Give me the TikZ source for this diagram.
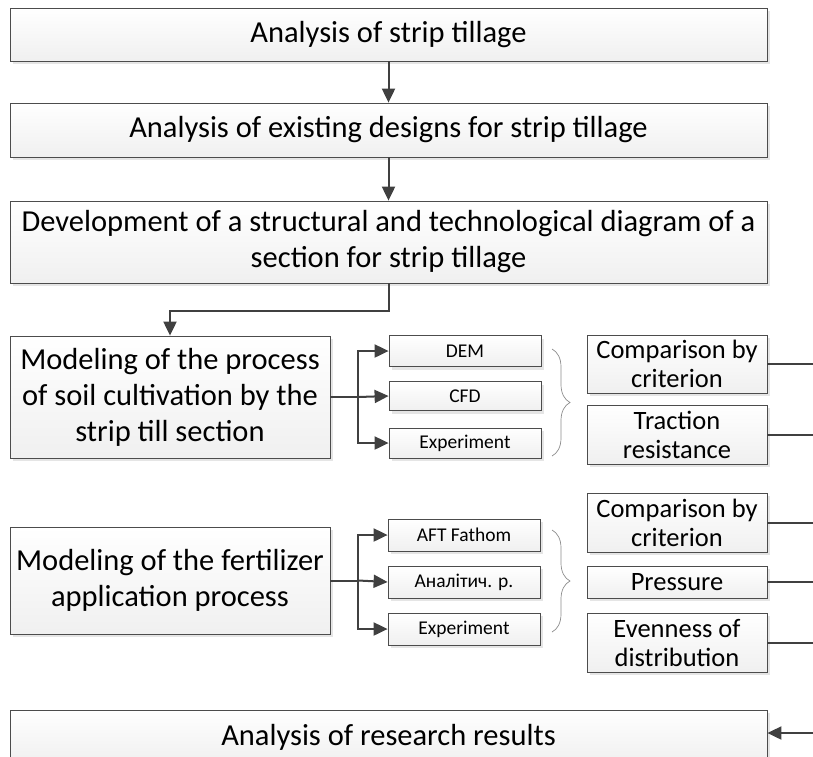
\documentclass[tikz,border=0pt]{standalone}
\usepackage{fontspec}
\setmainfont{Carlito}
\usetikzlibrary{shadows}
\usetikzlibrary{arrows.meta}
\usetikzlibrary{decorations.pathreplacing}

\begin{document}
\begin{tikzpicture}[x=1pt,y=-1pt,
  box/.style={draw=black!70, line width=0.8pt, top color=white, bottom color=black!6,
    drop shadow={shadow xshift=3pt, shadow yshift=-3pt, fill=black!10, opacity=1},
    align=center, inner sep=1pt},
  wide/.style={box, minimum width=757pt, font=\fontsize{30.5}{36}\selectfont},
  stage/.style={box, minimum width=320pt, font=\fontsize{30.5}{36}\selectfont},
  tool/.style={box, minimum width=152pt, minimum height=31pt, font=\fontsize{19.5}{22}\selectfont},
  crit/.style={box, minimum width=180pt, font=\fontsize{26.5}{29}\selectfont},
  link/.style={draw=black!75, line width=2pt},
  arr/.style={link, -{Triangle[length=14pt,width=13pt]}},
  brc/.style={draw=black!45, line width=0.7pt, decorate, decoration={brace, amplitude=18pt}}]

  \useasboundingbox (0,0) rectangle (813,756);
  \clip (0,0) rectangle (813,756);

  % main chain
  \node[wide, minimum height=53pt] (strip) at (388.5,34.5) {Analysis of strip tillage};
  \node[wide, minimum height=54pt] (designs) at (388.5,130) {Analysis of existing designs for strip tillage};
  \node[wide, minimum height=82pt] (diagram) at (388.5,242)
    {Development of a structural and technological diagram of a\\ section for strip tillage};
  \draw[arr] (strip) -- (designs);
  \draw[arr] (designs) -- (diagram);

  % soil cultivation
  \node[stage, minimum height=122pt] (soil) at (170,397)
    {Modeling of the process\\ of soil cultivation by the\\ strip till section};
  \draw[arr] (diagram.south) -- ++(0,28) -| (soil.north);
  \node[tool] (dem) at (465,351) {DEM};
  \node[tool, minimum height=29pt] (cfd) at (465,396) {CFD};
  \node[tool, minimum height=30pt] (expa) at (465,443) {Experiment};
  \coordinate (soilj) at ([xshift=28pt]soil.east);
  \draw[link] (soil.east) -- (soilj);
  \draw[arr] (soilj) |- (dem.west);
  \draw[arr] (soilj) -- (cfd.west);
  \draw[arr] (soilj) |- (expa.west);
  \draw[brc] (552,349) -- (552,456);
  \node[crit, minimum height=58pt] (crita) at (677,364) {Comparison by\\ criterion};
  \node[crit, minimum height=59pt] (traction) at (677,434.5) {Traction\\ resistance};
  \coordinate (outa) at (813,364);
  \coordinate (outb) at (813,434.5);
  \draw[link] (crita.east) -- (outa);
  \draw[link] (traction.east) -- (outb);

  % fertilizer application
  \node[stage, minimum height=107pt] (fert) at (170,580.5)
    {Modeling of the fertilizer\\ application process};
  \node[tool, minimum height=32pt] (aft) at (464,535) {AFT Fathom};
  \node[tool, minimum height=32pt] (anal) at (464,582) {Аналітич. р.};
  \node[tool, minimum height=32pt] (expb) at (464,629) {Experiment};
  \coordinate (fertj) at ([xshift=28pt]fert.east);
  \draw[link] (fert.east) -- (fertj);
  \draw[arr] (fertj) |- (aft.west);
  \draw[arr] (fertj) -- (anal.west);
  \draw[arr] (fertj) |- (expb.west);
  \draw[brc] (552,530) -- (552,632);
  \node[crit, minimum height=59pt] (critb) at (677,522.5) {Comparison by\\ criterion};
  \node[crit, minimum height=32pt] (press) at (677,582) {Pressure};
  \node[crit, minimum height=59pt] (even) at (677,642.5) {Evenness of\\ distribution};
  \coordinate (outc) at (813,522.5);
  \coordinate (outd) at (813,582);
  \coordinate (oute) at (813,642.5);
  \draw[link] (critb.east) -- (outc);
  \draw[link] (press.east) -- (outd);
  \draw[link] (even.east) -- (oute);

  % results
  \node[wide, minimum height=54pt] (results) at (388.5,737) {Analysis of research results};
  \coordinate (back) at (813,733);
  \draw[arr] (back) -- (back -| results.east);
\end{tikzpicture}
\end{document}
